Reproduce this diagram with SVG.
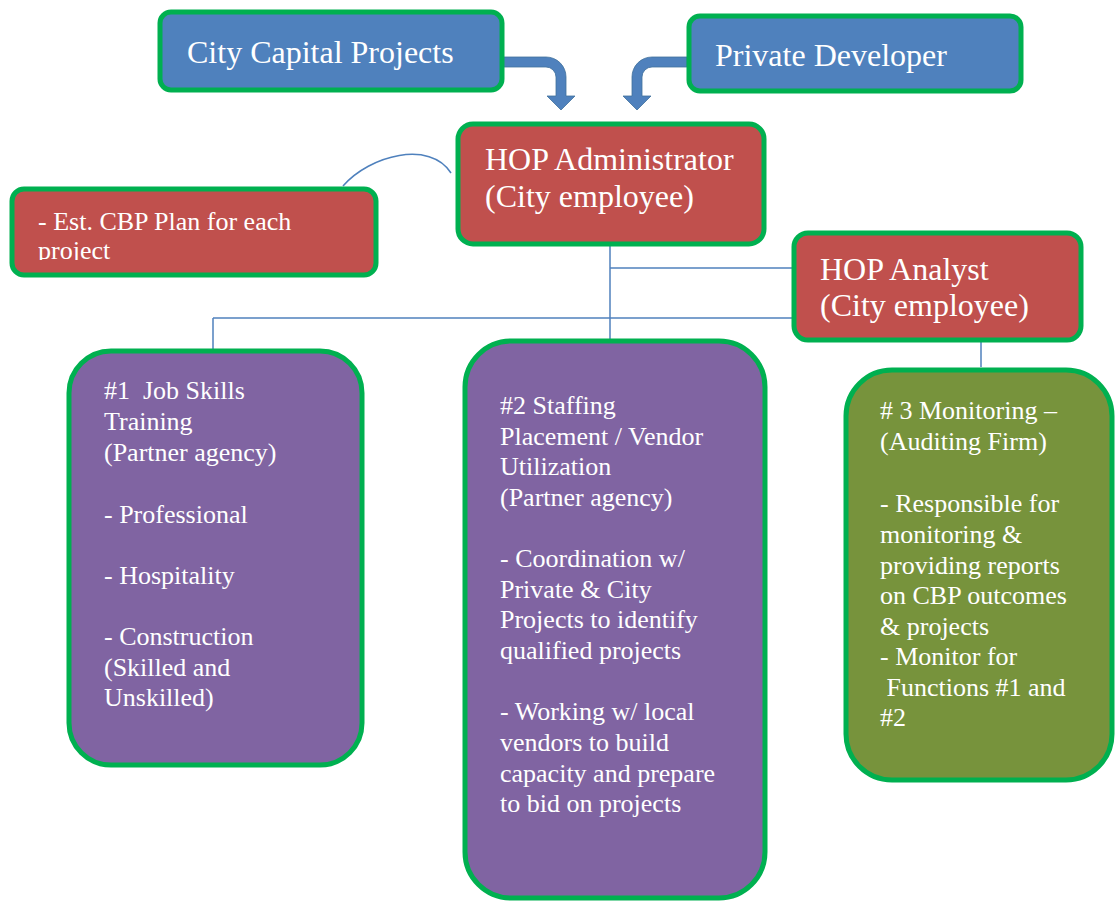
<svg xmlns="http://www.w3.org/2000/svg" width="1115" height="901" viewBox="0 0 1115 901">
  <defs>
    <style>
      .box { stroke: #00B050; stroke-width: 5; }
      .blue { fill: #4F81BD; }
      .red { fill: #C0504D; }
      .purple { fill: #8064A2; }
      .olive { fill: #77933C; }
      .lbl { font-family: "Liberation Serif", "Times New Roman", serif; fill: #FFFFFF; }
      .big { font-size: 32px; }
      .mid { font-size: 26px; }
      .conn { fill: none; stroke: #4F81BD; stroke-width: 1.5; }
      .bent { fill: #4F81BD; stroke: #41719C; stroke-width: 0.8; }
    </style>
    <clipPath id="planClip">
      <rect x="12" y="190" width="364" height="70"/>
    </clipPath>
  </defs>

  <rect width="1115" height="901" fill="#FFFFFF"/>

  <!-- connectors -->
  <g id="connectors">
    <path class="bent" d="M503,57 H546 A20,20 0 0 1 566,77 V96 H575 L561,110 L547,96 H556 V77 A10,10 0 0 0 546,67 H503 Z"/>
    <path class="bent" d="M687,57 H652 A20,20 0 0 0 632,77 V96 H623 L637,110 L651,96 H642 V77 A10,10 0 0 1 652,67 H687 Z"/>
    <path class="conn" d="M343,186 C370,155 430,140 451,173"/>
    <path class="conn" d="M610,245 V340"/>
    <path class="conn" d="M610,268 H792"/>
    <path class="conn" d="M213,318 H792"/>
    <path class="conn" d="M213,318 V350"/>
    <path class="conn" d="M981,341 V367"/>
  </g>

  <g id="city-capital">
    <rect class="box blue" x="160" y="12" width="342" height="78" rx="11"/>
    <text class="lbl big" x="187" y="63">City Capital Projects</text>
  </g>

  <g id="private-developer">
    <rect class="box blue" x="689" y="16" width="332" height="75" rx="11"/>
    <text class="lbl big" x="715" y="66">Private Developer</text>
  </g>

  <g id="hop-administrator">
    <rect class="box red" x="458" y="124" width="306" height="120" rx="15"/>
    <text class="lbl big" x="485" y="170">HOP Administrator</text>
    <text class="lbl big" x="485" y="207">(City employee)</text>
  </g>

  <g id="cbp-plan">
    <rect class="box red" x="12" y="189" width="364" height="86" rx="12"/>
    <g clip-path="url(#planClip)">
      <text class="lbl mid" x="38" y="230">- Est. CBP Plan for each</text>
      <text class="lbl mid" x="38" y="259">project</text>
    </g>
  </g>

  <g id="hop-analyst">
    <rect class="box red" x="794" y="233" width="287" height="107" rx="14"/>
    <text class="lbl big" x="820" y="280">HOP Analyst</text>
    <text class="lbl big" x="820" y="316">(City employee)</text>
  </g>

  <g id="job-skills">
    <rect class="box purple" x="69" y="351" width="293" height="414" rx="42"/>
    <text class="lbl mid" x="104" y="399" xml:space="preserve">#1  Job Skills</text>
    <text class="lbl mid" x="104" y="430">Training</text>
    <text class="lbl mid" x="104" y="461">(Partner agency)</text>
    <text class="lbl mid" x="104" y="523">- Professional</text>
    <text class="lbl mid" x="104" y="584">- Hospitality</text>
    <text class="lbl mid" x="104" y="645">- Construction</text>
    <text class="lbl mid" x="104" y="676">(Skilled and</text>
    <text class="lbl mid" x="104" y="706">Unskilled)</text>
  </g>

  <g id="staffing">
    <rect class="box purple" x="465" y="341" width="300" height="557" rx="46"/>
    <text class="lbl mid" x="500" y="414">#2 Staffing</text>
    <text class="lbl mid" x="500" y="445">Placement / Vendor</text>
    <text class="lbl mid" x="500" y="475">Utilization</text>
    <text class="lbl mid" x="500" y="506">(Partner agency)</text>
    <text class="lbl mid" x="500" y="567">- Coordination w/</text>
    <text class="lbl mid" x="500" y="598">Private &amp; City</text>
    <text class="lbl mid" x="500" y="628">Projects to identify</text>
    <text class="lbl mid" x="500" y="659">qualified projects</text>
    <text class="lbl mid" x="500" y="720">- Working w/ local</text>
    <text class="lbl mid" x="500" y="751">vendors to build</text>
    <text class="lbl mid" x="500" y="782">capacity and prepare</text>
    <text class="lbl mid" x="500" y="812">to bid on projects</text>
  </g>

  <g id="monitoring">
    <rect class="box olive" x="846" y="370" width="266" height="410" rx="46"/>
    <text class="lbl mid" x="880" y="419"># 3 Monitoring –</text>
    <text class="lbl mid" x="880" y="450">(Auditing Firm)</text>
    <text class="lbl mid" x="880" y="512">- Responsible for</text>
    <text class="lbl mid" x="880" y="543">monitoring &amp;</text>
    <text class="lbl mid" x="880" y="574">providing reports</text>
    <text class="lbl mid" x="880" y="604">on CBP outcomes</text>
    <text class="lbl mid" x="880" y="635">&amp; projects</text>
    <text class="lbl mid" x="880" y="665">- Monitor for</text>
    <text class="lbl mid" x="880" y="696" xml:space="preserve"> Functions #1 and</text>
    <text class="lbl mid" x="880" y="726">#2</text>
  </g>
</svg>
